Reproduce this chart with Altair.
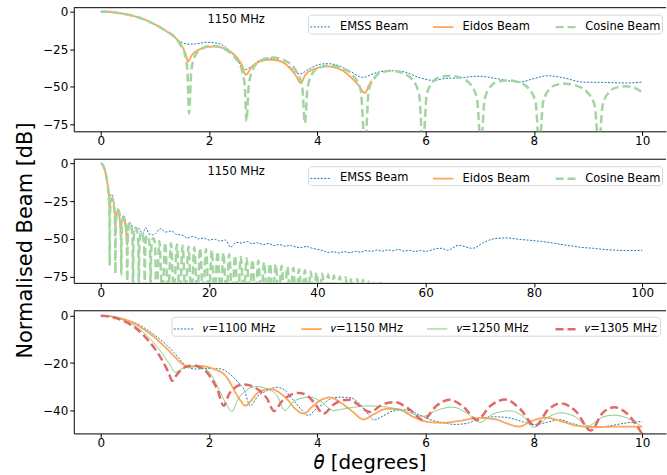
import altair as alt
import pandas as pd

FONT = "DejaVu Sans"

# ---------------- 1150 MHz beams (panels 1 and 2) ----------------
emss_near_theta = [0.0, 0.2, 0.4, 0.6, 0.8, 1.0, 1.2, 1.4, 1.5, 1.6, 1.75, 1.95, 2.15, 2.35, 2.5, 2.66, 2.8, 2.95,
                   3.13, 3.3, 3.5, 3.67, 3.85, 4.05, 4.2, 4.4, 4.6, 4.84, 5.05, 5.25, 5.4, 5.6, 5.9, 6.13, 6.35,
                   6.6, 6.99, 7.36, 7.73, 8.0, 8.25, 8.55, 8.9, 9.3, 9.69, 10.0]
emss_near_db = [0.0, -0.3, -1.3, -2.9, -5.2, -8.5, -12.8, -18.3, -20.5, -21.6, -21.5, -20.4, -21.0, -25.0, -31.0,
                -38.5, -36.0, -32.0, -30.9, -32.5, -37.0, -41.5, -38.0, -35.0, -34.6, -36.0, -39.5, -43.7, -41.0,
                -39.5, -39.3, -40.0, -44.0, -45.7, -44.5, -44.0, -43.0, -44.8, -46.8, -44.5, -42.6, -44.0, -46.8,
                -47.0, -47.4, -46.8]

emss_far_theta = [11, 12, 13, 14, 15, 16, 17, 18, 19, 20, 21, 22, 23, 24, 25, 26, 27, 28, 29, 30, 31, 32, 33, 34,
                  35, 36, 37, 38, 39, 40, 41, 42, 43, 44, 45, 46, 47, 48, 49, 50, 51, 52, 53, 54, 55, 56, 57, 58,
                  59, 60, 61, 62, 63, 64, 66.1, 68.6, 70.7, 72, 73.2, 75, 77, 79.3, 82, 84.2, 86.5, 88.6, 91, 93.5,
                  95.5, 97.8, 100]
emss_far_db = [-43.2, -45.5, -44.8, -47.0, -47.5, -49.5, -48.3, -50.0, -49.5, -50.8, -50.2, -51.5, -50.8, -55.5,
               -52.3, -52.8, -51.8, -53.2, -52.6, -53.8, -53.1, -54.4, -53.8, -54.9, -54.3, -55.4, -55.8, -55.0,
               -56.2, -57.0, -57.8, -59.0, -58.6, -59.4, -58.5, -59.2, -58.3, -58.8, -57.8, -58.3, -57.4, -58.2,
               -57.3, -57.9, -57.0, -58.2, -57.6, -58.4, -57.8, -58.3, -57.5, -56.5, -56.3, -57.6, -54.3, -56.3,
               -52.5, -50.5, -49.7, -49.4, -50.2, -51.0, -52.0, -53.2, -54.5, -55.6, -56.3, -57.2, -57.6, -57.8,
               -57.6]

eidos_theta = [0.0, 0.2, 0.4, 0.6, 0.8, 1.0, 1.2, 1.4, 1.5, 1.56, 1.61, 1.68, 1.8, 2.0, 2.1, 2.3, 2.5, 2.6, 2.68,
               2.78, 2.95, 3.13, 3.35, 3.5, 3.62, 3.69, 3.78, 3.95, 4.17, 4.4, 4.6, 4.75, 4.88, 4.95, 5.0]
eidos_db = [0.0, -0.3, -1.3, -2.9, -5.2, -8.5, -12.8, -18.3, -23.0, -27.5, -33.0, -29.0, -25.5, -23.4, -23.2,
            -24.8, -30.0, -35.0, -41.9, -37.0, -33.0, -32.0, -33.5, -38.0, -43.5, -47.4, -42.0, -38.0, -36.4,
            -38.0, -43.0, -48.5, -54.0, -49.0, -45.9]

cos_near_theta = [0.0, 0.2, 0.4, 0.6, 0.8, 1.0, 1.2, 1.4, 1.5, 1.56, 1.6, 1.63, 1.67, 1.73, 1.85, 2.05, 2.25, 2.45,
                  2.6, 2.66, 2.69, 2.73, 2.8, 2.95, 3.17, 3.4, 3.6, 3.72, 3.77, 3.82, 3.93, 4.05, 4.25, 4.45, 4.65,
                  4.8, 4.88, 4.95, 5.08, 5.2, 5.37, 5.55, 5.75, 5.88, 5.95, 6.02, 6.15, 6.28, 6.44, 6.62, 6.82,
                  6.95, 7.02, 7.09, 7.22, 7.35, 7.52, 7.7, 7.9, 8.03, 8.1, 8.17, 8.3, 8.43, 8.59, 8.77, 8.97, 9.12,
                  9.2, 9.27, 9.4, 9.53, 9.69, 9.85, 10.0]
cos_near_db = [0.0, -0.3, -1.3, -2.9, -5.2, -8.5, -12.8, -18.3, -24.0, -29.0, -40.0, -67.7, -40.0, -30.0, -25.0,
               -22.7, -24.3, -29.5, -38.0, -50.0, -72.8, -50.0, -39.0, -32.5, -30.5, -32.5, -39.0, -50.0, -74.0,
               -50.0, -40.0, -37.0, -35.9, -37.5, -42.0, -52.0, -90.0, -52.0, -43.0, -40.3, -39.3, -40.5, -45.0,
               -55.0, -90.0, -55.0, -46.0, -43.3, -42.6, -43.6, -48.0, -58.0, -90.0, -58.0, -49.0, -46.3, -45.7,
               -46.7, -51.0, -60.0, -90.0, -60.0, -51.0, -48.5, -47.9, -49.0, -53.0, -62.0, -90.0, -62.0, -53.0,
               -50.3, -49.6, -50.5, -53.4]

# far sidelobes of the cosine beam (panel 2): nulls and lobe tops
cos_far_null_theta = [10.27, 11.35, 12.42, 13.5, 14.57, 15.65, 16.72, 17.8, 18.87, 19.95, 21.02, 22.1, 23.17,
                      24.25, 25.32, 26.4, 27.47, 28.55, 29.62, 30.7, 31.77, 32.85, 33.92, 35.0, 36.07, 37.15,
                      38.22, 39.3, 40.37, 41.45, 42.52, 43.6, 44.67, 45.75, 46.82, 47.9, 48.97, 50.05, 51.12, 52.2]
cos_far_null_db = -90.0
cos_far_peak_theta = [10.81, 11.89, 12.96, 14.04, 15.11, 16.19, 17.26, 18.34, 19.41, 20.49, 21.56, 22.64, 23.71,
                      24.79, 25.86, 26.94, 28.01, 29.09, 30.16, 31.24, 32.31, 33.39, 34.46, 35.54, 36.61, 37.69,
                      38.76, 39.84, 40.91, 41.99, 43.06, 44.14, 45.21, 46.29, 47.36, 48.44, 49.51, 50.59, 51.66]
cos_far_peak_db = [-51.5, -52.3, -53.0, -53.7, -54.4, -55.0, -55.6, -56.1, -56.7, -57.4, -58.3, -59.2, -60.1,
                   -61.0, -61.9, -62.8, -63.7, -64.6, -65.5, -66.3, -67.0, -67.8, -68.6, -69.4, -70.1, -70.9,
                   -71.6, -72.4, -73.1, -73.7, -74.3, -74.9, -75.5, -76.1, -76.7, -77.3, -77.9, -78.5, -79.1]

# ---------------- frequency comparison (panel 3) ----------------
nu1100_theta = [0.0, 0.2, 0.4, 0.6, 0.8, 1.0, 1.2, 1.35, 1.5, 1.6, 1.75, 1.95, 2.2, 2.35, 2.45, 2.55, 2.64, 2.76,
                2.9, 3.07, 3.25, 3.4, 3.56, 3.7, 3.83, 3.97, 4.11, 4.25, 4.42, 4.6, 4.75, 4.9, 5.05, 5.2, 5.4, 5.6,
                5.85, 6.1, 6.32, 6.55, 6.75, 7.0, 7.24, 7.48, 7.75, 8.0, 8.25, 8.47, 8.7, 9.08, 9.4, 9.7, 10.0]
nu1100_db = [0.0, -0.3, -1.2, -2.7, -5.1, -8.3, -12.0, -15.5, -19.5, -21.8, -22.5, -22.3, -22.4, -24.0, -26.0,
             -28.5, -30.9, -38.0, -34.0, -31.6, -30.2, -31.5, -35.8, -39.5, -42.1, -39.5, -37.2, -35.0, -34.4,
             -34.6, -36.5, -40.5, -44.0, -42.5, -40.2, -39.7, -41.5, -44.0, -45.2, -45.9, -45.5, -43.5, -42.7,
             -42.9, -44.5, -46.0, -45.0, -43.9, -45.5, -47.3, -46.5, -45.3, -44.7]

nu1150_theta = [0.0, 0.2, 0.4, 0.6, 0.8, 1.0, 1.2, 1.35, 1.5, 1.62, 1.8, 1.97, 2.12, 2.27, 2.37, 2.45, 2.57, 2.67,
                2.77, 2.88, 3.0, 3.13, 3.3, 3.45, 3.6, 3.75, 3.9, 4.05, 4.23, 4.45, 4.65, 4.85, 5.05, 5.28, 5.5,
                5.75, 6.05, 6.3, 6.6, 6.99, 7.3, 7.5, 7.73, 7.95, 8.22, 8.5, 8.8, 9.2, 9.6, 10.0]
nu1150_db = [0.0, -0.3, -1.3, -3.0, -5.8, -9.3, -13.5, -17.0, -20.3, -21.5, -21.2, -21.6, -22.8, -24.6, -27.5,
             -30.9, -35.5, -38.0, -36.0, -33.0, -31.4, -30.9, -32.5, -35.5, -39.5, -41.3, -38.5, -35.8, -34.5,
             -37.0, -40.5, -43.8, -41.5, -39.3, -39.5, -42.5, -44.9, -45.2, -44.5, -43.2, -43.8, -45.5, -46.8,
             -44.5, -43.1, -44.5, -46.5, -47.0, -46.8, -46.8]

nu1250_theta = [0.0, 0.2, 0.4, 0.6, 0.8, 1.0, 1.15, 1.27, 1.38, 1.48, 1.6, 1.8, 1.97, 2.09, 2.2, 2.3, 2.42, 2.53,
                2.64, 2.88, 3.1, 3.25, 3.4, 3.55, 3.68, 3.87, 4.05, 4.3, 4.5, 4.72, 4.95, 5.15, 5.4, 5.7, 5.95,
                6.2, 6.5, 6.75, 7.0, 7.25, 7.55, 7.8, 8.0, 8.25, 8.5, 8.75, 9.0, 9.25, 9.48, 9.75, 10.0]
nu1250_db = [0.0, -0.4, -1.7, -3.9, -7.3, -12.0, -16.5, -20.5, -23.9, -22.6, -21.8, -21.5, -23.0, -27.0, -32.0,
             -36.5, -40.4, -35.5, -32.3, -29.9, -31.2, -33.5, -40.0, -36.5, -35.0, -34.4, -36.0, -40.0, -39.3,
             -38.5, -38.1, -38.3, -39.0, -41.0, -42.5, -40.0, -38.6, -41.0, -45.0, -41.5, -40.2, -42.5, -47.0,
             -43.0, -41.0, -42.5, -46.5, -43.0, -42.0, -43.5, -47.0]

nu1305_theta = [0.0, 0.2, 0.4, 0.6, 0.8, 1.0, 1.15, 1.25, 1.32, 1.4, 1.5, 1.6, 1.72, 1.85, 1.96, 2.08, 2.15, 2.27,
                2.37, 2.47, 2.63, 2.8, 2.95, 3.07, 3.2, 3.35, 3.5, 3.65, 3.8, 3.95, 4.11, 4.3, 4.45, 4.6, 4.75,
                4.97, 5.2, 5.43, 5.7, 5.95, 6.2, 6.44, 6.7, 6.95, 7.2, 7.47, 7.75, 8.02, 8.27, 8.5, 8.78, 9.05,
                9.27, 9.49, 9.75, 10.0]
nu1305_db = [0.0, -0.5, -2.0, -4.5, -8.5, -14.0, -19.5, -24.0, -27.5, -25.0, -22.5, -21.3, -21.0, -22.0, -23.9,
             -28.0, -31.0, -38.0, -33.0, -30.5, -29.0, -29.8, -32.0, -35.0, -40.2, -36.0, -33.5, -32.6, -33.5,
             -37.0, -41.4, -37.5, -35.8, -35.5, -37.5, -40.7, -37.5, -36.5, -39.5, -44.0, -38.0, -35.5, -38.5,
             -44.0, -38.0, -35.4, -39.5, -46.5, -39.5, -37.0, -40.5, -48.5, -41.0, -38.7, -42.0, -50.0]

beam_names = ["EMSS Beam", "Eidos Beam", "Cosine Beam"]
freq_names = ["𝜈=1100 MHz", "𝜈=1150 MHz", "𝜈=1250 MHz", "𝜈=1305 MHz"]
ann_label = ["1150 MHz"]
ann_theta_p1 = [2.5]
ann_theta_p2 = [25.0]
ann_db = [-5.5]


def long_df(items):
    frames = []
    for name, th, db in items:
        assert len(th) == len(db), name
        frames.append(pd.DataFrame({"theta": th, "db": db, "series": name}))
    return pd.concat(frames, ignore_index=True)


cos_far_theta, cos_far_db = [], []
for i, t in enumerate(cos_far_null_theta):
    cos_far_theta.append(t)
    cos_far_db.append(cos_far_null_db)
    if i < len(cos_far_peak_theta):
        cos_far_theta.append(cos_far_peak_theta[i])
        cos_far_db.append(cos_far_peak_db[i])

df1 = long_df([("EMSS Beam", emss_near_theta, emss_near_db),
               ("Eidos Beam", eidos_theta, eidos_db),
               ("Cosine Beam", cos_near_theta, cos_near_db)])
df2 = long_df([("EMSS Beam", emss_near_theta + emss_far_theta, emss_near_db + emss_far_db),
               ("Eidos Beam", eidos_theta, eidos_db),
               ("Cosine Beam", cos_near_theta + cos_far_theta, cos_near_db + cos_far_db)])
df3 = long_df([(freq_names[0], nu1100_theta, nu1100_db),
               (freq_names[1], nu1150_theta, nu1150_db),
               (freq_names[2], nu1250_theta, nu1250_db),
               (freq_names[3], nu1305_theta, nu1305_db)])

AX = dict(labelFont=FONT, labelFontSize=12, labelColor="black", tickColor="black", domainColor="black",
          tickSize=4, labelPadding=2, grid=False, labelFlush=False, labelOverlap=False)


def panel(df, names, colors, dashes, widths, leg_x, leg_y, xdom, ydom, xticks, yticks, w, h,
          ann=None, yaxis_extra=None, xaxis_extra=None):
    leg = alt.Legend(orient="none", legendX=leg_x, legendY=leg_y, direction="horizontal", columns=len(names),
                     title=None, symbolType="stroke", symbolSize=420, labelFont=FONT, labelFontSize=11.5,
                     labelColor="black", fillColor="white", strokeColor="#d6d6d6", cornerRadius=3, padding=1,
                     columnPadding=20, labelOffset=8, labelLimit=300)
    xs = alt.Scale(domain=xdom, nice=False, zero=False)
    ys = alt.Scale(domain=ydom, nice=False, zero=False)
    xkw = dict(AX, values=xticks, title=None, labelPadding=0.5)
    ykw = dict(AX, values=yticks, title=None)
    if xaxis_extra:
        xkw.update(xaxis_extra)
    if yaxis_extra:
        ykw.update(yaxis_extra)
    xax = alt.Axis(**xkw)
    yax = alt.Axis(**ykw)
    layers = []
    for n in names:
        sub = df[df.series == n]
        layers.append(
            alt.Chart(sub).mark_line(clip=True, interpolate="monotone").encode(
                x=alt.X("theta:Q", scale=xs, axis=xax),
                y=alt.Y("db:Q", scale=ys, axis=yax),
                color=alt.Color("series:N", scale=alt.Scale(domain=names, range=colors), legend=leg),
                strokeDash=alt.StrokeDash("series:N", scale=alt.Scale(domain=names, range=dashes), legend=leg),
                strokeWidth=alt.StrokeWidth("series:N",
                                            scale=alt.Scale(type="ordinal", domain=names, range=widths),
                                            legend=leg),
            )
        )
    if ann is not None:
        layers.append(
            alt.Chart(ann).mark_text(font=FONT, fontSize=11.5, color="black", align="center",
                                     baseline="middle").encode(
                x=alt.X("x:Q", scale=xs, axis=xax),
                y=alt.Y("y:Q", scale=ys, axis=yax),
                text="label:N",
            )
        )
    # top frame line of the panel
    layers.append(
        alt.Chart(pd.DataFrame({"frame": ["top"]})).mark_rule(color="black", strokeWidth=1).encode(
            x=alt.value(0), x2=alt.value(w), y=alt.value(0)
        )
    )
    return alt.layer(*layers).properties(width=w, height=h)


# colours of the original lines as they appear over white (alpha-blended)
beam_colors = ["#1f77b4", "#ffa354", "#a2d59f"]
beam_dashes = [[2, 1.5], [1, 0], [8, 4]]
beam_widths = [1.0, 1.8, 2.5]

W = 594
p1 = panel(df1, beam_names, beam_colors, beam_dashes, beam_widths, 235, 7,
           [-0.5, 10.44], [-79.5, 2.6], [0, 2, 4, 6, 8, 10], [0, -25, -50, -75], W, 124,
           ann=pd.DataFrame({"x": ann_theta_p1, "y": ann_db, "label": ann_label}))
p2 = panel(df2, beam_names, beam_colors, beam_dashes, beam_widths, 235, 7,
           [-5, 104.4], [-79.2, 2.8], [0, 20, 40, 60, 80, 100], [0, -25, -50, -75], W, 124,
           ann=pd.DataFrame({"x": ann_theta_p2, "y": ann_db, "label": ann_label}),
           yaxis_extra=dict(title="Normalised Beam [dB]", titleFont=FONT, titleFontSize=21,
                            titleFontWeight="normal", titleColor="black", titleAngle=270,
                            titleBaseline="alphabetic", titleX=-42, titleY=81))
p3 = panel(df3, freq_names, ["#1f77b4", "#ffa556", "#80c680", "#e26868"],
           [[2, 1.5], [1, 0], [1, 0], [8, 4]], [1.0, 1.8, 1.0, 2.5], 98, 6,
           [-0.5, 10.44], [-49.7, 2.1], [0, 2, 4, 6, 8, 10], [0, -20, -40], W, 123,
           xaxis_extra=dict(title="𝜃 [degrees]", titleFont=FONT, titleFontSize=20, titleFontWeight="normal",
                            titleColor="black", titleBaseline="alphabetic", titleY=35))

chart = (
    alt.vconcat(p1, p2, p3, spacing=28, bounds="flush")
    .resolve_scale(color="independent", strokeDash="independent", strokeWidth="independent")
    .resolve_legend(color="independent", strokeDash="independent", strokeWidth="independent")
    .properties(padding={"left": 14, "top": 4, "right": 0, "bottom": 0}, background="white")
    .configure_view(stroke=None)
)

chart.save("out.html", embed_options={"renderer": "svg", "actions": False})
